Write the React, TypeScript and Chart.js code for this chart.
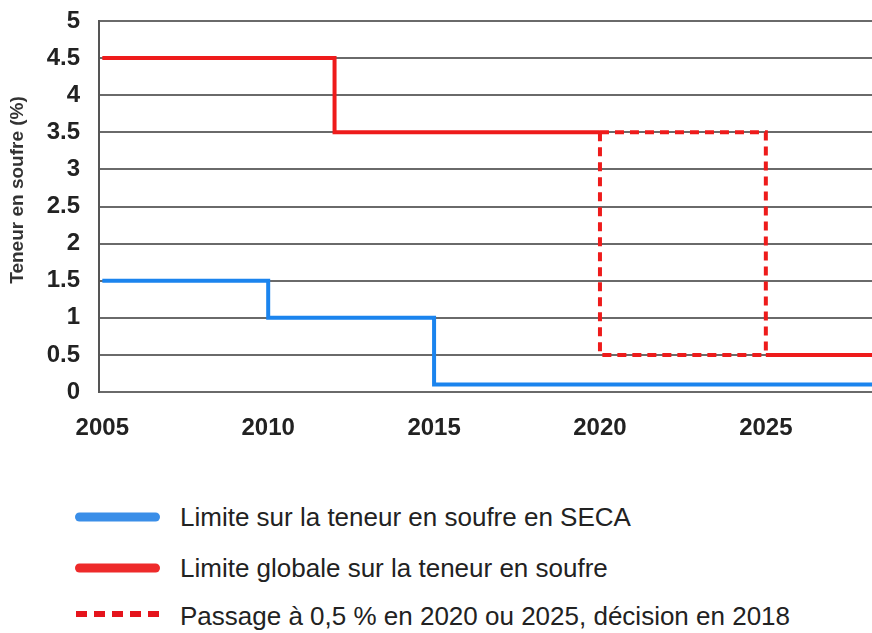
import React, { useEffect, useRef } from "react";
import { Chart, registerables } from "chart.js";

Chart.register(...registerables);

// ---- data ----
const xTickYears = [2005, 2010, 2015, 2020, 2025];
const yTickValues = [0, 0.5, 1, 1.5, 2, 2.5, 3, 3.5, 4, 4.5, 5];

const secaYears = [2005, 2010, 2015, 2030];
const secaValues = [1.5, 1.0, 0.1, 0.1];

const globalYears = [2005, 2012, 2020];
const globalValues = [4.5, 3.5, 3.5];

const global2025Years = [2025, 2030];
const global2025Values = [0.5, 0.5];

const switchYears = [2020, 2025];
const switchValues = [3.5, 0.5];

const yAxisTitle = "Teneur en soufre (%)";
const legendLabels = [
  "Limite sur la teneur en soufre en SECA",
  "Limite globale sur la teneur en soufre",
  "Passage à 0,5 % en 2020 ou 2025, décision en 2018",
];

const BLUE = "#1b84ee";
const RED = "#ee1b1b";
const FONT = '"Liberation Sans", Arial, Helvetica, sans-serif';

const pts = (xs: number[], ys: number[]) => xs.map((x, i) => ({ x, y: ys[i] }));

const yTitlePlugin = {
  id: "yTitlePlugin",
  afterDraw(chart: any) {
    const ctx = chart.ctx;
    ctx.save();
    ctx.translate(18, 190);
    ctx.rotate(-Math.PI / 2);
    ctx.font = `bold 19px ${FONT}`;
    ctx.fillStyle = "#333";
    ctx.textAlign = "center";
    ctx.textBaseline = "middle";
    ctx.fillText(yAxisTitle, 0, 0);
    ctx.restore();
  },
};

const CANVAS_H = 460;

export default function App() {
  const ref = useRef<HTMLCanvasElement | null>(null);

  useEffect(() => {
    if (!ref.current) return;
    const common = {
      pointRadius: 0,
      pointHoverRadius: 0,
      fill: false,
      borderJoinStyle: "miter" as const,
      borderCapStyle: "butt" as const,
      tension: 0,
    };
    const chart = new Chart(ref.current, {
      type: "line",
      data: {
        datasets: [
          {
            ...common,
            label: legendLabels[2],
            data: pts(switchYears, switchValues),
            borderColor: RED,
            borderWidth: 4,
            borderDash: [9, 6],
            stepped: "after",
          },
          {
            ...common,
            label: legendLabels[2] + " b",
            data: pts(switchYears, switchValues),
            borderColor: RED,
            borderWidth: 4,
            borderDash: [9, 6],
            stepped: "before",
          },
          {
            ...common,
            label: legendLabels[1],
            data: pts(globalYears, globalValues),
            borderColor: RED,
            borderWidth: 4,
            stepped: "before",
          },
          {
            ...common,
            label: legendLabels[1] + " b",
            data: pts(global2025Years, global2025Values),
            borderColor: RED,
            borderWidth: 4,
            stepped: "before",
          },
          {
            ...common,
            label: legendLabels[0],
            data: pts(secaYears, secaValues),
            borderColor: BLUE,
            borderWidth: 4,
            stepped: "before",
          },
        ],
      },
      options: {
        animation: false,
        responsive: false,
        maintainAspectRatio: false,
        events: [],
        layout: { padding: { top: 21, left: 0, right: 0, bottom: 0 } },
        plugins: {
          legend: { display: false },
          tooltip: { enabled: false },
          title: { display: false },
        },
        scales: {
          x: {
            type: "linear",
            min: 2004.9,
            max: 2028.2,
            afterFit: (s: any) => {
              s.height = CANVAS_H - 392;
              s.paddingLeft = 0;
              s.paddingRight = 0;
            },
            afterBuildTicks: (s: any) => {
              s.ticks = xTickYears.map((v) => ({ value: v }));
            },
            grid: { display: false, drawTicks: false },
            border: { display: false },
            ticks: {
              padding: 22,
              autoSkip: false,
              maxRotation: 0,
              color: "#222",
              font: { family: FONT, size: 24, weight: "bold" },
              callback: (v: any) => String(v),
            },
          },
          y: {
            type: "linear",
            min: 0,
            max: 5,
            afterFit: (s: any) => {
              s.width = 99;
              s.paddingTop = 0;
              s.paddingBottom = 0;
            },
            afterBuildTicks: (s: any) => {
              s.ticks = yTickValues.map((v) => ({ value: v }));
            },
            grid: { color: "#6a6a6a", lineWidth: 2, drawTicks: false },
            border: { display: true, color: "#555", width: 2 },
            ticks: {
              padding: 19,
              color: "#222",
              font: { family: FONT, size: 24, weight: "bold" },
              callback: (v: any) => String(v),
            },
          },
        },
      },
      plugins: [yTitlePlugin],
    } as any);
    return () => chart.destroy();
  }, []);

  const textStyle = (top: number): React.CSSProperties => ({
    position: "absolute",
    left: 180,
    top,
    height: 30,
    lineHeight: "30px",
    fontSize: 26,
    fontFamily: FONT,
    color: "#222",
    whiteSpace: "nowrap",
  });

  return (
    <div style={{ position: "absolute", left: 0, top: 0, width: 872, height: 633, background: "#fff", overflow: "hidden" }}>
      <canvas ref={ref} width={872} height={CANVAS_H} style={{ display: "block", width: 872, height: CANVAS_H }} />
      <svg width={872} height={633 - CANVAS_H} style={{ position: "absolute", left: 0, top: CANVAS_H }}>
        <line x1={79.5} x2={155.5} y1={517 - CANVAS_H} y2={517 - CANVAS_H} stroke="#3a8ee8" strokeWidth={9} strokeLinecap="round" />
        <line x1={79.5} x2={155.5} y1={568 - CANVAS_H} y2={568 - CANVAS_H} stroke="#ee2a2a" strokeWidth={9} strokeLinecap="round" />
        <line x1={76} x2={160} y1={614 - CANVAS_H} y2={614 - CANVAS_H} stroke="#e5141c" strokeWidth={6} strokeDasharray="11 7" />
      </svg>
      <div style={textStyle(517 - 15)}>{legendLabels[0]}</div>
      <div style={textStyle(568 - 15)}>{legendLabels[1]}</div>
      <div style={textStyle(616 - 15)}>{legendLabels[2]}</div>
    </div>
  );
}
